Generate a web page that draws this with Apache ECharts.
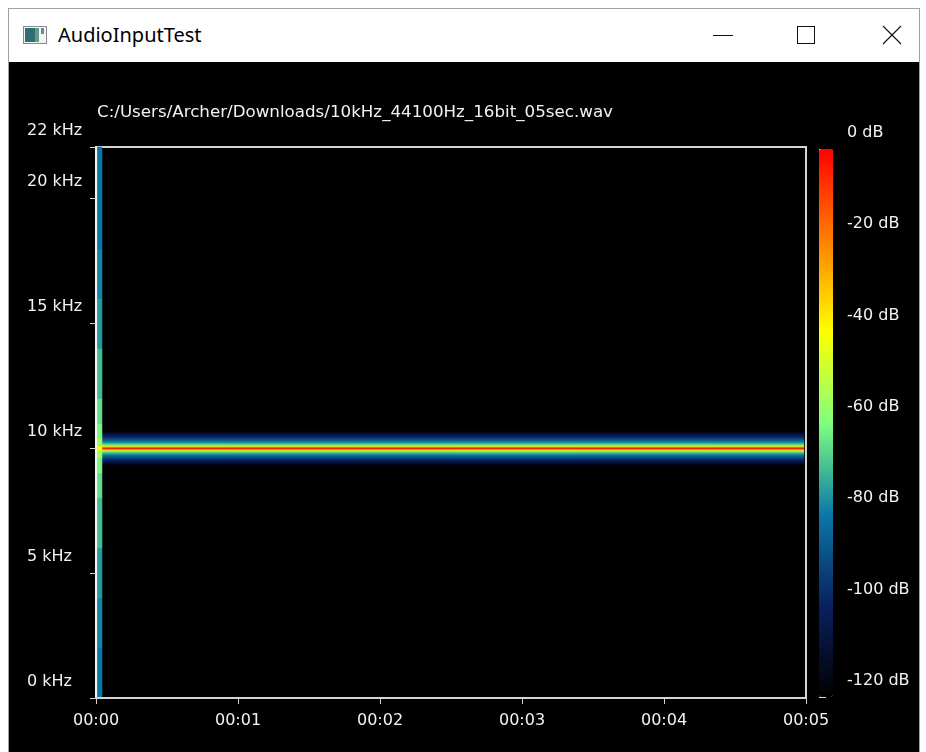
<!DOCTYPE html>
<html>
<head>
<meta charset="utf-8">
<script src="https://cdn.jsdelivr.net/npm/echarts@6/dist/echarts.min.js"></script>
<style>
html,body{margin:0;padding:0;background:#fff;width:926px;height:752px;overflow:hidden;position:relative}
#frame{position:absolute;left:8px;top:8px;width:912px;height:744px;border:1px solid #a0a0a0;border-bottom:none;box-sizing:border-box}
#content{position:absolute;left:9px;top:62px;width:910px;height:690px;background:#000}
#wtitle{position:absolute;left:58px;top:21px;font:20px "Noto Sans",sans-serif;color:#000;line-height:28px}
#chrome{position:absolute;left:0;top:0}
#chart{position:absolute;left:0;top:0;width:926px;height:752px}
</style>
</head>
<body>
<div id="frame"></div>
<div id="content"></div>
<svg id="chrome" width="926" height="62">
  <rect x="23.5" y="26.5" width="23" height="17" fill="#f4f4f4" stroke="#8a8a8a"/>
  <rect x="25" y="28" width="10" height="14" fill="#2f6f73"/>
  <rect x="35" y="28" width="4" height="14" fill="#5f9c8a"/>
  <rect x="41" y="28" width="3" height="6" fill="#6a8aa0"/>
  <line x1="713" y1="35.5" x2="733" y2="35.5" stroke="#111" stroke-width="1"/>
  <rect x="797.5" y="26.5" width="17" height="17" fill="none" stroke="#111" stroke-width="1"/>
  <line x1="883" y1="26" x2="901" y2="44" stroke="#111" stroke-width="1.1"/>
  <line x1="901" y1="26" x2="883" y2="44" stroke="#111" stroke-width="1.1"/>
</svg>
<div id="wtitle">AudioInputTest</div>
<div id="chart"></div>
<script>
// ---------- data ----------
const fileTitle = 'C:/Users/Archer/Downloads/10kHz_44100Hz_16bit_05sec.wav';

// time axis (seconds) and its tick labels
const timeTickValues = [0, 1, 2, 3, 4, 5];
const timeTickLabels = ['00:00', '00:01', '00:02', '00:03', '00:04', '00:05'];

// frequency axis (Hz) and its tick labels
const freqTickValues = [0, 5000, 10000, 15000, 20000, 22050];
const freqTickLabels = ['0 kHz', '5 kHz', '10 kHz', '15 kHz', '20 kHz', '22 kHz'];

// level scale (dB) and its tick labels
const dbTickValues = [-120, -100, -80, -60, -40, -20, 0];
const dbTickLabels = ['-120 dB', '-100 dB', '-80 dB', '-60 dB', '-40 dB', '-20 dB', '0 dB'];

// steady 10 kHz tone: bin centre frequencies (Hz), 40 Hz wide, and level (dB)
const toneBinWidth = 40;
const toneFreqs = [9320, 9360, 9400, 9440, 9480, 9520, 9560, 9600, 9640, 9680, 9720, 9760,
  9800, 9840, 9880, 9920, 9960, 10000, 10040, 10080, 10120, 10160, 10200, 10240,
  10280, 10320, 10360, 10400, 10440, 10480, 10520, 10560, 10600, 10640, 10680];
const toneDb = [-118, -114, -110, -106, -102, -99, -96, -92, -88, -84, -80, -76,
  -71, -65, -58, -46, -20, -2, -20, -46, -58, -65, -71, -76,
  -80, -84, -88, -92, -96, -99, -102, -106, -110, -114, -118];
const toneStart = 0.042;   // s
const toneEnd = 4.985;     // s

// onset (broadband click) at the start: time edges (s), band edges (Hz), levels (dB)
const onsetTimes = [0, 0.014, 0.042];
const onsetBandEdges = [0, 2000, 4000, 6000, 8000, 9000, 9600, 9900, 10100, 10400, 11000, 12000, 14000, 16000, 18000, 22050];
const onsetDbEarly = [-75, -74, -71, -66, -62, -58, -52, -40, -52, -58, -62, -66, -71, -74, -75];
const onsetDbLate  = [-80, -78, -75, -70, -65, -61, -55, -42, -55, -61, -65, -70, -75, -78, -80];

// colour scale, from -120 dB to 0 dB
const levelColors = ['#000000', '#0a2060', '#0a78a8', '#80ff80', '#ffff00', '#ff8000', '#ff0000'];

// ---------- build cells: [t0, t1, f0, f1, dB] ----------
const toneCells = toneFreqs.map((f, i) => [toneStart, toneEnd, f - toneBinWidth / 2, f + toneBinWidth / 2, toneDb[i]]);
const onsetCells = [];
[onsetDbEarly, onsetDbLate].forEach((row, ti) => {
  row.forEach((db, bi) => {
    onsetCells.push([onsetTimes[ti], onsetTimes[ti + 1], onsetBandEdges[bi], onsetBandEdges[bi + 1], db]);
  });
});

function renderCell(params, api) {
  const p0 = api.coord([api.value(0), api.value(3)]);
  const p1 = api.coord([api.value(1), api.value(2)]);
  const c = api.visual('color');
  return {
    type: 'rect',
    shape: { x: p0[0], y: p0[1], width: p1[0] - p0[0], height: p1[1] - p0[1] },
    style: { fill: c, stroke: c, lineWidth: 0.6 }
  };
}

const FONT = 'DejaVu Sans';
const TXT = '#f2f2f2';
const LINE = '#d4d4d4';

const chart = echarts.init(document.getElementById('chart'), null, { renderer: 'canvas' });
chart.setOption({
  backgroundColor: 'transparent',
  animation: false,
  title: {
    text: fileTitle, left: 97, top: 104, padding: 0,
    textStyle: { color: TXT, fontFamily: FONT, fontSize: 16.7, fontWeight: 'normal' }
  },
  grid: [
    { left: 96, top: 147, width: 710, height: 551, show: true, borderColor: LINE, borderWidth: 2, backgroundColor: 'transparent' },
    { left: 819, top: 149, width: 14, height: 548, show: false }
  ],
  xAxis: [
    {
      gridIndex: 0, type: 'value', min: 0, max: 5, interval: 1, z: 5,
      axisLine: { show: true, lineStyle: { color: LINE, width: 2 } },
      axisTick: { show: true, length: 6, lineStyle: { color: LINE, width: 1 } },
      splitLine: { show: false },
      axisLabel: {
        color: TXT, fontFamily: FONT, fontSize: 16, margin: 15,
        showMinLabel: true, showMaxLabel: true,
        formatter: v => timeTickLabels[timeTickValues.indexOf(v)]
      }
    },
    { gridIndex: 1, type: 'value', min: 0, max: 1, show: false }
  ],
  yAxis: [
    {
      gridIndex: 0, type: 'value', min: 0, max: 22050, interval: 5000, z: 5,
      axisLine: { show: true, lineStyle: { color: '#f4f4f4', width: 2 } },
      axisTick: { show: true, length: 6, lineStyle: { color: LINE, width: 1 } },
      splitLine: { show: false },
      axisLabel: {
        color: TXT, fontFamily: FONT, fontSize: 16, margin: 69, align: 'left',
        verticalAlign: 'bottom', lineHeight: 32,
        showMinLabel: true, showMaxLabel: true, hideOverlap: false,
        formatter: v => { const i = freqTickValues.indexOf(v); return i < 0 ? '' : freqTickLabels[i]; }
      }
    },
    {
      gridIndex: 1, type: 'value', min: -120, max: 0, interval: 20, position: 'right',
      axisLine: { show: false },
      axisTick: { show: true, length: 7, inside: false, lineStyle: { color: LINE, width: 1 } },
      splitLine: { show: false },
      axisLabel: {
        color: TXT, fontFamily: FONT, fontSize: 16, margin: 14, align: 'left',
        verticalAlign: 'bottom', lineHeight: 32,
        showMinLabel: true, showMaxLabel: true, hideOverlap: false,
        formatter: v => dbTickLabels[dbTickValues.indexOf(v)]
      }
    }
  ],
  visualMap: {
    type: 'continuous', min: -120, max: 0, dimension: 4, seriesIndex: [0, 1],
    calculable: false, hoverLink: false, left: 819, top: 149, itemWidth: 14, itemHeight: 548,
    padding: 0, text: null, orient: 'vertical',
    inRange: { color: levelColors }
  },
  series: [
    {
      type: 'custom', name: 'tone', xAxisIndex: 0, yAxisIndex: 0, z: 2,
      renderItem: renderCell, encode: { x: [0, 1], y: [2, 3] }, data: toneCells, silent: true
    },
    {
      type: 'custom', name: 'onset', xAxisIndex: 0, yAxisIndex: 0, z: 2,
      renderItem: renderCell, encode: { x: [0, 1], y: [2, 3] }, data: onsetCells, silent: true
    }
  ]
});
</script>
</body>
</html>
